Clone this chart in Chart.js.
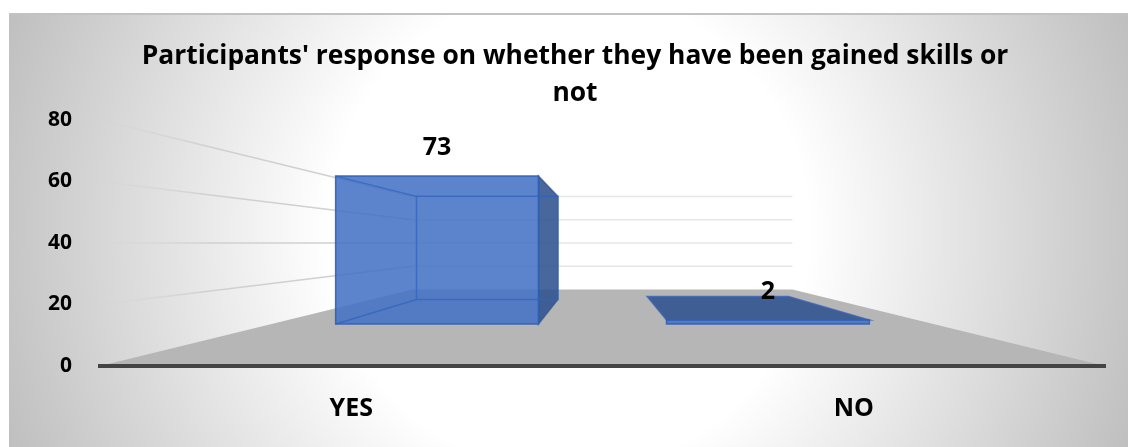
<!DOCTYPE html>
<html>
<head>
<meta charset="utf-8">
<title>Skills gained</title>
<script src="https://cdn.jsdelivr.net/npm/chart.js@4"></script>
<style>
    html, body { margin: 0; padding: 0; background: #fff; }
    #panel {
        position: absolute; left: 9px; top: 13px; width: 1119px; height: 432px;
        border-top: 2px solid #c2c2c2;
        background: radial-gradient(circle farthest-corner at 50% 50%, #fff 0%, #fff 40%, #bfbfbf 100%);
    }
    #skillsChart { position: absolute; left: 0; top: 0; }
</style>
</head>
<body>
<div id="panel"></div>
<canvas id="skillsChart" width="1128" height="447"></canvas>
<script>
const categories = ["YES", "NO"];
const responseCounts = [73, 2];
const yTicks = [0, 20, 40, 60, 80];
const titleLines = ["Participants' response on whether they have been gained skills or", "not"];

const FONT = "'Open Sans', sans-serif";

// depth factors for the fake 3D box (1 = front of the floor, smaller = further back)
const WALL_DEPTH = 0.378;
const BAR_FRONT = 0.6585;
const BAR_BACK = 0.459;

// one point perspective, vanishing point sits mid plot
function projector(chart) {
    const area = chart.chartArea;
    const y = chart.scales.y;
    const vx = (area.left + area.right) / 2;
    const vy = y.getPixelForValue((y.min + y.max) / 2);
    return (px, py, s) => [vx + (px - vx) * s, vy + (py - vy) * s];
}

function poly(ctx, pts, fill, stroke) {
    ctx.beginPath();
    pts.forEach((p, i) => i ? ctx.lineTo(p[0], p[1]) : ctx.moveTo(p[0], p[1]));
    ctx.closePath();
    if (fill) { ctx.fillStyle = fill; ctx.fill(); }
    if (stroke) { ctx.strokeStyle = stroke; ctx.lineWidth = 1.5; ctx.stroke(); }
}

function seg(ctx, a, b, color, width) {
    ctx.beginPath();
    ctx.moveTo(a[0], a[1]);
    ctx.lineTo(b[0], b[1]);
    ctx.strokeStyle = color;
    ctx.lineWidth = width;
    ctx.stroke();
}

// floor and gridlines, under everything else
const roomPlugin = {
    id: "room",
    beforeDraw(chart) {
        const { ctx, chartArea: area, scales } = chart;
        const p = projector(chart);
        const zero = scales.y.getPixelForValue(0);

        ctx.save();
        poly(ctx, [
            [area.left, zero],
            p(area.left, zero, WALL_DEPTH),
            p(area.right, zero, WALL_DEPTH),
            [area.right, zero]
        ], "#b6b6b6");

        const fade = ctx.createLinearGradient(area.left, 0, area.left + 110, 0);
        fade.addColorStop(0, "rgba(208,208,208,0)");
        fade.addColorStop(1, "rgba(208,208,208,1)");

        scales.y.ticks.forEach(t => {
            if (t.value === 0) return;
            const yy = scales.y.getPixelForValue(t.value);
            const back = p(area.left, yy, WALL_DEPTH);
            seg(ctx, [area.left, yy], back, fade, 1.5);
            seg(ctx, back, p(area.right, yy, WALL_DEPTH), "#e6e6e6", 1.5);
        });
        ctx.restore();
    }
};

// the library lays the bars out, this paints each one as a see-through box
const boxPlugin = {
    id: "box",
    afterDatasetsDraw(chart) {
        const { ctx } = chart;
        const p = projector(chart);
        const vx = (chart.chartArea.left + chart.chartArea.right) / 2;
        const vy = chart.scales.y.getPixelForValue(40);
        const meta = chart.getDatasetMeta(0);

        ctx.save();
        meta.data.forEach((bar, i) => {
            const l = bar.x - bar.width / 2, r = bar.x + bar.width / 2;
            const fTL = p(l, bar.y, BAR_FRONT), fTR = p(r, bar.y, BAR_FRONT);
            const fBL = p(l, bar.base, BAR_FRONT), fBR = p(r, bar.base, BAR_FRONT);
            const bTL = p(l, bar.y, BAR_BACK), bTR = p(r, bar.y, BAR_BACK);
            const bBL = p(l, bar.base, BAR_BACK), bBR = p(r, bar.base, BAR_BACK);

            // faces that stick out of the front rectangle
            if (fTR[0] < vx) poly(ctx, [fTR, bTR, bBR, fBR], "rgba(47,82,143,0.88)", "rgba(47,82,143,0.7)");
            if (fTL[1] > vy) poly(ctx, [bTL, bTR, fTR, fTL], "rgba(47,82,143,0.88)", "rgba(60,100,180,0.8)");

            poly(ctx, [fTL, fTR, fBR, fBL], "rgba(68,114,196,0.87)", "rgba(47,95,180,0.9)");

            // inner edges, only visible through the front of a tall box
            if (fTL[1] < vy) {
                const edge = "rgba(50,100,190,0.75)";
                poly(ctx, [bTL, bTR, bBR, bBL], null, edge);
                seg(ctx, fTL, bTL, edge, 1.5);
                seg(ctx, fBL, bBL, edge, 1.5);
            }

            // value label
            ctx.font = "bold 25px " + FONT;
            ctx.fillStyle = "#000";
            ctx.textAlign = "center";
            ctx.textBaseline = "middle";
            ctx.fillText(String(responseCounts[i]), (fTL[0] + fTR[0]) / 2, fTL[1] - 28);
        });
        ctx.restore();
    }
};

new Chart(document.getElementById("skillsChart").getContext("2d"), {
    type: "bar",
    data: {
        labels: categories,
        datasets: [{
            data: responseCounts,
            backgroundColor: "transparent",
            borderWidth: 0,
            categoryPercentage: 1,
            barPercentage: 0.613
        }]
    },
    plugins: [roomPlugin, boxPlugin],
    options: {
        responsive: false,
        animation: false,
        layout: { padding: { left: 45, right: 23, top: 0, bottom: 0 } },
        plugins: {
            legend: { display: false },
            tooltip: { enabled: false },
            title: {
                display: true,
                text: titleLines,
                color: "#000",
                font: { family: FONT, size: 26.4, weight: "bold", lineHeight: 1.4 },
                padding: { top: 38, bottom: 8 }
            }
        },
        scales: {
            x: {
                afterFit(scale) { scale.height = 81; },
                grid: { drawOnChartArea: false, drawTicks: false },
                border: { color: "#444", width: 4 },
                ticks: {
                    color: "#000",
                    padding: 28,
                    maxRotation: 0,
                    font: { family: FONT, size: 25, weight: "bold" }
                }
            },
            y: {
                min: yTicks[0],
                max: yTicks[yTicks.length - 1],
                afterFit(scale) { scale.width = 55; },
                grid: { display: false },
                border: { display: false },
                ticks: {
                    stepSize: yTicks[1] - yTicks[0],
                    color: "#000",
                    padding: 20,
                    font: { family: FONT, size: 21, weight: "bold" }
                }
            }
        }
    }
});
</script>
</body>
</html>
